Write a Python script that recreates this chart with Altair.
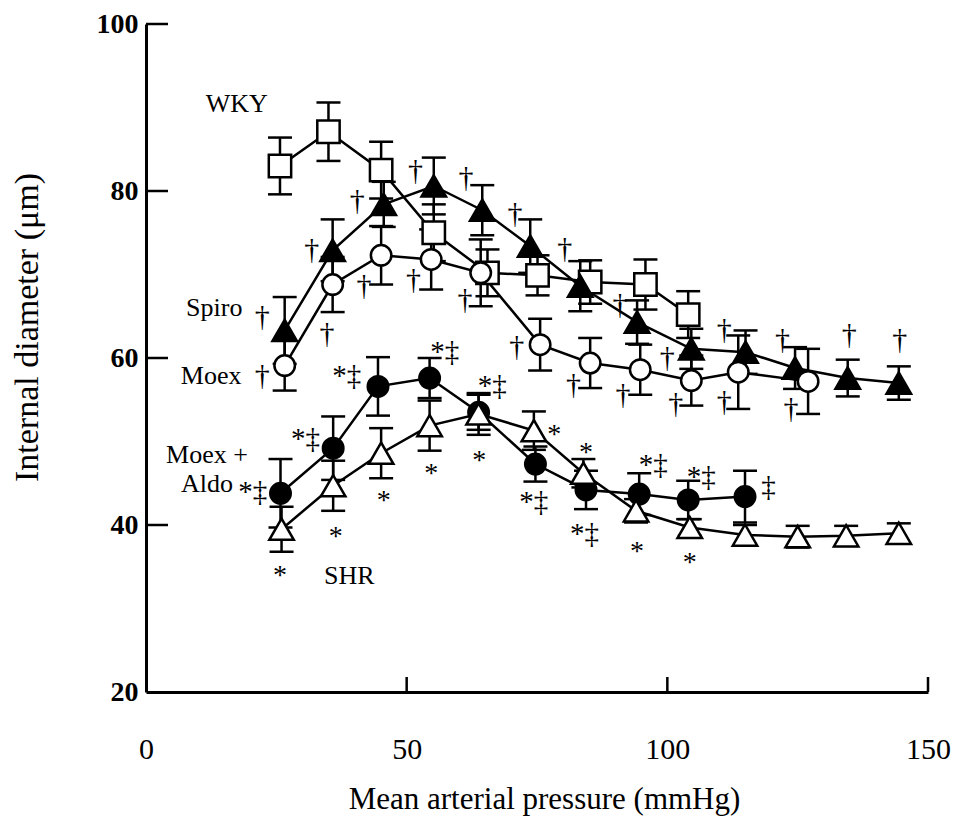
import altair as alt
import pandas as pd

FONT = "Liberation Serif"

# ---------------- data ----------------
wky_x = [25.7, 35.0, 45.1, 55.2, 65.5, 75.1, 85.2, 95.8, 104.0]
wky_y = [83.0, 87.1, 82.5, 75.0, 70.2, 69.9, 69.1, 68.8, 65.2]
wky_se = [3.4, 3.5, 3.4, 3.4, 2.8, 2.4, 2.6, 3.0, 2.8]

spiro_x = [26.6, 35.8, 45.6, 55.2, 64.5, 73.7, 83.3, 94.2, 104.6, 115.0, 124.5, 134.6, 144.4]
spiro_y = [63.3, 72.9, 78.4, 80.6, 77.7, 73.4, 68.6, 64.3, 61.1, 60.7, 58.8, 57.6, 57.0]
spiro_se = [4.0, 3.7, 2.7, 3.4, 3.0, 3.2, 3.0, 2.6, 2.4, 2.6, 2.5, 2.2, 2.0]

moex_x = [26.6, 35.8, 45.1, 54.7, 64.2, 75.6, 85.2, 94.8, 104.6, 113.6, 127.0]
moex_y = [59.1, 68.8, 72.3, 71.8, 70.2, 61.6, 59.4, 58.6, 57.3, 58.3, 57.2]
moex_se = [3.0, 3.3, 3.5, 3.6, 4.0, 3.1, 3.0, 3.0, 3.0, 4.4, 3.9]

ma_x = [25.8, 35.9, 44.5, 54.4, 63.8, 74.7, 84.4, 94.6, 104.0, 114.9]
ma_y = [43.8, 49.2, 56.6, 57.6, 53.5, 47.3, 44.2, 43.7, 43.0, 43.4]
ma_se = [4.1, 3.8, 3.5, 2.4, 2.1, 2.1, 2.3, 2.5, 2.3, 3.1]

shr_x = [26.0, 35.9, 45.1, 54.4, 63.8, 74.4, 83.9, 94.0, 104.3, 114.9, 125.0, 134.3, 144.4]
shr_y = [39.5, 44.7, 48.6, 51.9, 53.3, 51.3, 46.2, 41.7, 39.7, 38.8, 38.6, 38.7, 39.0]
shr_se = [2.7, 3.0, 3.0, 3.0, 2.5, 2.3, 1.7, 1.4, 1.0, 1.2, 1.3, 1.2, 1.2]

# annotation symbols (data coordinates)
dag_x = [51.7, 61.4, 40.5, 70.8, 31.8, 41.8, 51.3, 61.2, 22.3, 34.7, 71.1, 80.3, 90.9,
         82.0, 91.5, 100.0, 101.6, 110.9, 110.9, 122.1, 123.7, 134.9, 144.6, 22.3]
dag_y = [82.4, 81.6, 78.8, 77.3, 72.9, 68.6, 69.4, 67.0, 64.9, 62.9, 61.3, 73.1, 66.3,
         56.8, 55.6, 60.0, 54.5, 63.3, 54.7, 62.1, 53.9, 62.7, 62.1, 57.8]

star_x = [25.7, 36.4, 45.6, 54.7, 63.9, 78.3, 84.4, 94.2, 104.3]
star_y = [34.6, 39.3, 43.6, 46.8, 48.4, 51.5, 49.3, 37.5, 36.2]

sdd_x = [38.5, 57.3, 66.4, 30.6, 20.5, 74.4, 84.1, 97.3, 106.5]
sdd_y = [57.8, 60.7, 56.6, 50.3, 44.0, 42.7, 38.9, 47.2, 45.8]

dd_x = [119.4]
dd_y = [44.6]

label_text = ["WKY", "Spiro", "Moex", "Moex +", "Aldo", "SHR"]
label_x = [17.4, 13.1, 12.5, 11.7, 11.7, 39.0]
label_y = [90.4, 66.0, 57.8, 48.4, 44.9, 33.9]

x_ticks = [0, 50, 100, 150]
y_ticks = [20, 40, 60, 80, 100]
x_inner_ticks = [50, 100, 150]
y_inner_ticks = [40, 60, 80, 100]

# ---------------- tables ----------------
series = [
    ("WKY", wky_x, wky_y, wky_se, "square", "white", 500),
    ("Spiro", spiro_x, spiro_y, spiro_se, "triangle-up", "black", 600),
    ("Moex", moex_x, moex_y, moex_se, "circle", "white", 420),
    ("Moex+Aldo", ma_x, ma_y, ma_se, "circle", "black", 420),
    ("SHR", shr_x, shr_y, shr_se, "triangle-up", "white", 600),
]
rows = []
for name, xs, ys, ses, *_ in series:
    for x, y, s in zip(xs, ys, ses):
        rows.append({"group": name, "x": x, "y": y, "lo": y - s, "hi": y + s})
df = pd.DataFrame(rows)

W, H = 782, 668

xscale = alt.Scale(domain=[0, 150], nice=False, zero=False)
yscale = alt.Scale(domain=[20, 100], nice=False, zero=False)

xaxis = alt.Axis(values=x_ticks, ticks=False, tickSize=0, grid=False,
                 domainColor="black", domainWidth=3,
                 labelFont=FONT, labelFontSize=30, labelColor="black",
                 labelPadding=42, labelFlush=False,
                 title="Mean arterial pressure (mmHg)", titleFont=FONT,
                 titleFontSize=31, titleFontWeight="normal", titleColor="black",
                 titleX=398, titleY=116, titleBaseline="alphabetic", titleAlign="center")
yaxis = alt.Axis(values=y_ticks, ticks=False, tickSize=0, grid=False,
                 domainColor="black", domainWidth=3,
                 labelFont=FONT, labelFontSize=28, labelFontWeight="bold",
                 labelColor="black", labelPadding=8, labelFlush=False,
                 title="Internal diameter (μm)", titleFont=FONT, titleFontSize=34,
                 titleFontWeight="normal", titleColor="black",
                 titleX=-119, titleY=303, titleAngle=270,
                 titleAlign="center", titleBaseline="middle")

X = lambda f: alt.X(f, scale=xscale, axis=xaxis)
Y = lambda f: alt.Y(f, scale=yscale, axis=yaxis)

base = alt.Chart(df)

lines = base.mark_line(color="black", strokeWidth=2.5).encode(
    x=X("x:Q"), y=Y("y:Q"), detail="group:N", order="x:Q")

bars = base.mark_rule(color="black", strokeWidth=2.5).encode(
    x=X("x:Q"), y=Y("lo:Q"), y2="hi:Q")
caps_lo = base.mark_tick(orient="horizontal", size=24, thickness=2.5, color="black", opacity=1).encode(
    x=X("x:Q"), y=Y("lo:Q"))
caps_hi = base.mark_tick(orient="horizontal", size=24, thickness=2.5, color="black", opacity=1).encode(
    x=X("x:Q"), y=Y("hi:Q"))

point_layers = []
for name, xs, ys, ses, shape, fill, size in series:
    point_layers.append(
        base.transform_filter(alt.datum.group == name).mark_point(
            shape=shape, size=size, filled=True, fill=fill, stroke="black",
            strokeWidth=2.5, opacity=1, fillOpacity=1
        ).encode(x=X("x:Q"), y=Y("y:Q"))
    )

xt = alt.Chart(pd.DataFrame({"x": x_inner_ticks})).mark_rule(color="black", strokeWidth=2.5).encode(
    x=X("x:Q"), y=alt.value(H), y2=alt.value(H - 15))
yt = alt.Chart(pd.DataFrame({"y": y_inner_ticks})).mark_rule(color="black", strokeWidth=2.5).encode(
    y=Y("y:Q"), x=alt.value(0), x2=alt.value(22))


def text_layer(xs, ys, texts, size=26, dy=0):
    d = pd.DataFrame({"x": xs, "y": ys, "t": texts})
    return alt.Chart(d).mark_text(font=FONT, fontSize=size, color="black",
                                  align="center", baseline="middle", dy=dy).encode(
        x=X("x:Q"), y=Y("y:Q"), text="t:N")


daggers = text_layer(dag_x, dag_y, ["†"] * len(dag_x), size=30)
stars = text_layer(star_x, star_y, ["*"] * len(star_x), size=28, dy=6)
sdds = text_layer(sdd_x, sdd_y, ["*‡"] * len(sdd_x), size=29)
dds = text_layer(dd_x, dd_y, ["‡"] * len(dd_x), size=29)
labels = text_layer(label_x, label_y, label_text, size=26)

chart = alt.layer(
    xt, yt, lines, bars, caps_lo, caps_hi, *point_layers,
    daggers, stars, sdds, dds, labels
).properties(
    width=W, height=H,
    autosize=alt.AutoSizeParams(type="none"),
    padding={"left": 138, "top": 16, "right": 24, "bottom": 125},
    background="white",
).configure_view(stroke=None)

chart.save("out.html", embed_options={"renderer": "svg", "actions": False})
